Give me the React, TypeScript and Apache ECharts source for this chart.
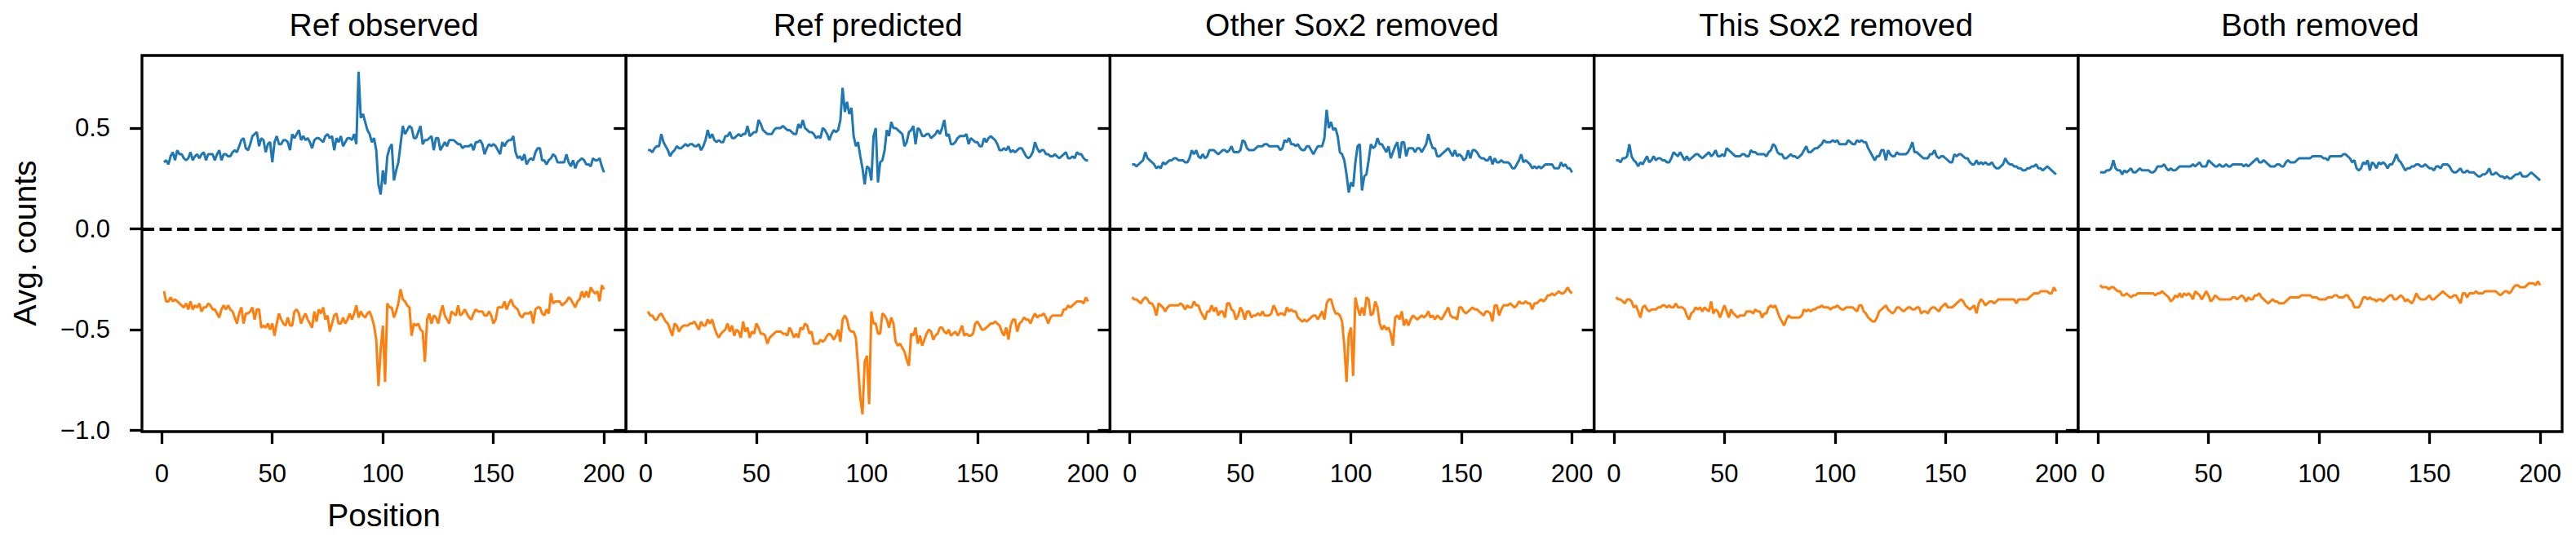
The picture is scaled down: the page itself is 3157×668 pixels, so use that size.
import React, { useEffect, useRef } from "react";
import * as echarts from "echarts";

// ---------- data ----------
const PANEL_TITLES = ["Ref observed", "Ref predicted", "Other Sox2 removed", "This Sox2 removed", "Both removed"];
const X_TICKS = [0, 50, 100, 150, 200];
const Y_TICKS = [-1.0, -0.5, 0.0, 0.5];
const Y_LABEL = "Avg. counts";
const X_LABEL = "Position";
const POSITIONS = Array.from({ length: 200 }, (_, i) => i + 1);

const REF_OBSERVED_FWD = [
  0.33, 0.34, 0.32, 0.36, 0.38, 0.34, 0.39, 0.37, 0.37, 0.35,
  0.34, 0.35, 0.38, 0.34, 0.36, 0.37, 0.35, 0.37, 0.38, 0.34,
  0.37, 0.37, 0.37, 0.34, 0.37, 0.39, 0.34, 0.37, 0.37, 0.36,
  0.36, 0.38, 0.39, 0.38, 0.41, 0.44, 0.45, 0.40, 0.39, 0.42,
  0.46, 0.47, 0.48, 0.41, 0.45, 0.44, 0.38, 0.42, 0.43, 0.33,
  0.43, 0.46, 0.42, 0.42, 0.44, 0.44, 0.43, 0.39, 0.47, 0.45,
  0.47, 0.49, 0.44, 0.46, 0.44, 0.45, 0.43, 0.40, 0.44, 0.45,
  0.45, 0.44, 0.43, 0.46, 0.47, 0.45, 0.46, 0.39, 0.45, 0.43,
  0.46, 0.41, 0.43, 0.45, 0.45, 0.44, 0.47, 0.42, 0.78, 0.55,
  0.57, 0.53, 0.49, 0.47, 0.43, 0.45, 0.39, 0.22, 0.17, 0.29,
  0.22, 0.36, 0.40, 0.42, 0.24, 0.29, 0.33, 0.42, 0.51, 0.47,
  0.49, 0.51, 0.50, 0.45, 0.45, 0.48, 0.51, 0.42, 0.44, 0.44,
  0.45, 0.46, 0.39, 0.45, 0.45, 0.39, 0.41, 0.43, 0.41, 0.44,
  0.44, 0.44, 0.43, 0.42, 0.42, 0.40, 0.41, 0.41, 0.41, 0.42,
  0.39, 0.43, 0.43, 0.44, 0.42, 0.37, 0.40, 0.42, 0.41, 0.42,
  0.41, 0.39, 0.37, 0.43, 0.41, 0.43, 0.44, 0.44, 0.46, 0.38,
  0.35, 0.36, 0.34, 0.37, 0.32, 0.34, 0.35, 0.34, 0.38, 0.40,
  0.40, 0.34, 0.34, 0.32, 0.34, 0.35, 0.37, 0.36, 0.33, 0.33,
  0.33, 0.33, 0.37, 0.33, 0.31, 0.34, 0.30, 0.33, 0.34, 0.35,
  0.34, 0.32, 0.32, 0.31, 0.35, 0.34, 0.34, 0.35, 0.31, 0.28,
];
const REF_OBSERVED_REV = [
  -0.31, -0.36, -0.36, -0.34, -0.36, -0.35, -0.36, -0.37, -0.38, -0.39,
  -0.37, -0.40, -0.36, -0.40, -0.38, -0.39, -0.37, -0.41, -0.39, -0.39,
  -0.37, -0.38, -0.40, -0.40, -0.42, -0.44, -0.40, -0.38, -0.40, -0.38,
  -0.40, -0.41, -0.44, -0.47, -0.42, -0.39, -0.47, -0.42, -0.42, -0.41,
  -0.39, -0.45, -0.40, -0.40, -0.49, -0.48, -0.49, -0.47, -0.50, -0.47,
  -0.53, -0.47, -0.42, -0.45, -0.47, -0.48, -0.44, -0.48, -0.48, -0.41,
  -0.40, -0.42, -0.47, -0.44, -0.42, -0.45, -0.47, -0.49, -0.41, -0.46,
  -0.40, -0.42, -0.39, -0.45, -0.43, -0.51, -0.47, -0.43, -0.42, -0.47,
  -0.47, -0.44, -0.47, -0.45, -0.42, -0.45, -0.42, -0.38, -0.44, -0.41,
  -0.43, -0.44, -0.42, -0.41, -0.44, -0.48, -0.55, -0.78, -0.60, -0.48,
  -0.76, -0.37, -0.39, -0.39, -0.44, -0.41, -0.37, -0.30, -0.35, -0.36,
  -0.38, -0.39, -0.53, -0.47, -0.48, -0.47, -0.50, -0.51, -0.66, -0.45,
  -0.42, -0.47, -0.43, -0.44, -0.47, -0.42, -0.38, -0.43, -0.45, -0.47,
  -0.41, -0.42, -0.43, -0.38, -0.43, -0.42, -0.40, -0.42, -0.44, -0.45,
  -0.42, -0.40, -0.41, -0.41, -0.41, -0.43, -0.43, -0.41, -0.43, -0.47,
  -0.45, -0.39, -0.39, -0.39, -0.36, -0.40, -0.37, -0.35, -0.38, -0.39,
  -0.40, -0.43, -0.44, -0.42, -0.42, -0.42, -0.41, -0.47, -0.40, -0.39,
  -0.39, -0.42, -0.43, -0.40, -0.42, -0.32, -0.37, -0.36, -0.36, -0.36,
  -0.38, -0.37, -0.36, -0.34, -0.35, -0.37, -0.39, -0.36, -0.35, -0.31,
  -0.34, -0.31, -0.34, -0.29, -0.31, -0.32, -0.31, -0.36, -0.28, -0.30,
];
const REF_PREDICTED_FWD = [
  0.39, 0.39, 0.38, 0.40, 0.41, 0.41, 0.47, 0.43, 0.41, 0.39,
  0.36, 0.38, 0.39, 0.41, 0.40, 0.40, 0.41, 0.42, 0.41, 0.42,
  0.42, 0.41, 0.41, 0.42, 0.39, 0.41, 0.44, 0.49, 0.45, 0.47,
  0.44, 0.43, 0.44, 0.43, 0.43, 0.46, 0.46, 0.48, 0.45, 0.45,
  0.46, 0.47, 0.46, 0.47, 0.47, 0.51, 0.46, 0.47, 0.48, 0.48,
  0.54, 0.52, 0.49, 0.48, 0.47, 0.47, 0.47, 0.49, 0.50, 0.50,
  0.50, 0.51, 0.50, 0.49, 0.49, 0.48, 0.47, 0.47, 0.52, 0.50,
  0.54, 0.50, 0.49, 0.48, 0.48, 0.47, 0.45, 0.46, 0.45, 0.50,
  0.49, 0.47, 0.44, 0.47, 0.49, 0.48, 0.49, 0.54, 0.70, 0.58,
  0.63, 0.57, 0.60, 0.46, 0.41, 0.43, 0.36, 0.30, 0.22, 0.31,
  0.30, 0.24, 0.46, 0.50, 0.23, 0.33, 0.34, 0.39, 0.49, 0.46,
  0.53, 0.50, 0.50, 0.49, 0.48, 0.47, 0.41, 0.43, 0.48, 0.49,
  0.51, 0.42, 0.50, 0.49, 0.46, 0.46, 0.47, 0.47, 0.45, 0.46,
  0.47, 0.49, 0.47, 0.50, 0.54, 0.46, 0.47, 0.42, 0.42, 0.43,
  0.45, 0.46, 0.46, 0.46, 0.47, 0.42, 0.45, 0.44, 0.43, 0.43,
  0.41, 0.41, 0.45, 0.43, 0.45, 0.46, 0.45, 0.44, 0.42, 0.39,
  0.39, 0.40, 0.39, 0.41, 0.38, 0.39, 0.38, 0.39, 0.40, 0.40,
  0.38, 0.36, 0.35, 0.36, 0.38, 0.43, 0.40, 0.38, 0.39, 0.39,
  0.37, 0.37, 0.36, 0.36, 0.37, 0.36, 0.35, 0.36, 0.37, 0.38,
  0.35, 0.35, 0.36, 0.35, 0.38, 0.37, 0.37, 0.35, 0.34, 0.34,
];
const REF_PREDICTED_REV = [
  -0.41, -0.43, -0.43, -0.45, -0.45, -0.43, -0.42, -0.44, -0.46, -0.47,
  -0.50, -0.53, -0.47, -0.48, -0.51, -0.49, -0.48, -0.48, -0.48, -0.47,
  -0.47, -0.46, -0.48, -0.50, -0.46, -0.48, -0.48, -0.45, -0.47, -0.45,
  -0.49, -0.52, -0.54, -0.52, -0.51, -0.50, -0.47, -0.51, -0.48, -0.53,
  -0.50, -0.51, -0.54, -0.46, -0.51, -0.49, -0.54, -0.51, -0.52, -0.47,
  -0.49, -0.52, -0.52, -0.53, -0.57, -0.54, -0.53, -0.52, -0.51, -0.51,
  -0.51, -0.52, -0.52, -0.53, -0.49, -0.51, -0.54, -0.52, -0.54, -0.49,
  -0.50, -0.47, -0.48, -0.52, -0.51, -0.57, -0.57, -0.57, -0.55, -0.56,
  -0.55, -0.53, -0.52, -0.53, -0.55, -0.53, -0.50, -0.56, -0.45, -0.43,
  -0.45, -0.50, -0.51, -0.51, -0.54, -0.68, -0.84, -0.92, -0.66, -0.63,
  -0.87, -0.41, -0.47, -0.47, -0.52, -0.52, -0.42, -0.43, -0.45, -0.49,
  -0.44, -0.47, -0.56, -0.58, -0.57, -0.59, -0.61, -0.65, -0.68, -0.52,
  -0.53, -0.49, -0.57, -0.53, -0.58, -0.55, -0.52, -0.50, -0.51, -0.55,
  -0.53, -0.52, -0.49, -0.49, -0.51, -0.52, -0.50, -0.53, -0.52, -0.51,
  -0.53, -0.51, -0.48, -0.53, -0.52, -0.53, -0.53, -0.52, -0.47, -0.46,
  -0.48, -0.50, -0.50, -0.49, -0.48, -0.47, -0.47, -0.46, -0.47, -0.48,
  -0.51, -0.53, -0.49, -0.55, -0.48, -0.45, -0.45, -0.51, -0.47, -0.46,
  -0.44, -0.45, -0.45, -0.47, -0.44, -0.42, -0.44, -0.43, -0.43, -0.42,
  -0.44, -0.47, -0.44, -0.43, -0.43, -0.43, -0.43, -0.43, -0.40, -0.40,
  -0.38, -0.39, -0.38, -0.37, -0.36, -0.36, -0.36, -0.37, -0.34, -0.36,
];
const OTHER_REMOVED_FWD = [
  0.32, 0.32, 0.31, 0.32, 0.33, 0.34, 0.38, 0.35, 0.34, 0.33,
  0.32, 0.30, 0.31, 0.30, 0.33, 0.32, 0.33, 0.34, 0.34, 0.35,
  0.35, 0.34, 0.34, 0.34, 0.33, 0.33, 0.35, 0.39, 0.37, 0.39,
  0.36, 0.35, 0.37, 0.35, 0.36, 0.39, 0.39, 0.39, 0.38, 0.37,
  0.38, 0.39, 0.39, 0.38, 0.39, 0.41, 0.38, 0.38, 0.38, 0.39,
  0.44, 0.43, 0.40, 0.39, 0.39, 0.39, 0.40, 0.41, 0.41, 0.41,
  0.42, 0.42, 0.41, 0.41, 0.41, 0.41, 0.41, 0.39, 0.40, 0.44,
  0.43, 0.45, 0.42, 0.42, 0.41, 0.42, 0.40, 0.39, 0.39, 0.41,
  0.41, 0.39, 0.37, 0.39, 0.41, 0.41, 0.41, 0.45, 0.59, 0.50,
  0.53, 0.49, 0.50, 0.46, 0.38, 0.37, 0.34, 0.27, 0.18, 0.23,
  0.21, 0.33, 0.41, 0.42, 0.19, 0.26, 0.27, 0.34, 0.42, 0.40,
  0.41, 0.45, 0.42, 0.42, 0.40, 0.38, 0.41, 0.35, 0.38, 0.41,
  0.43, 0.35, 0.43, 0.43, 0.36, 0.40, 0.40, 0.40, 0.38, 0.40,
  0.40, 0.38, 0.40, 0.42, 0.47, 0.43, 0.40, 0.40, 0.36, 0.36,
  0.37, 0.38, 0.39, 0.40, 0.38, 0.36, 0.39, 0.36, 0.37, 0.36,
  0.34, 0.35, 0.39, 0.35, 0.39, 0.39, 0.38, 0.36, 0.35, 0.35,
  0.34, 0.34, 0.36, 0.32, 0.35, 0.33, 0.33, 0.34, 0.33, 0.33,
  0.33, 0.32, 0.30, 0.30, 0.32, 0.34, 0.37, 0.33, 0.34, 0.33,
  0.32, 0.30, 0.31, 0.30, 0.31, 0.30, 0.31, 0.32, 0.32, 0.32,
  0.32, 0.30, 0.30, 0.30, 0.33, 0.31, 0.32, 0.30, 0.30, 0.28,
];
const OTHER_REMOVED_REV = [
  -0.34, -0.35, -0.35, -0.36, -0.37, -0.35, -0.34, -0.35, -0.37, -0.37,
  -0.39, -0.43, -0.37, -0.38, -0.39, -0.41, -0.39, -0.38, -0.38, -0.38,
  -0.38, -0.38, -0.37, -0.38, -0.40, -0.38, -0.39, -0.39, -0.36, -0.38,
  -0.38, -0.41, -0.43, -0.45, -0.41, -0.41, -0.38, -0.41, -0.39, -0.43,
  -0.41, -0.41, -0.44, -0.37, -0.37, -0.40, -0.41, -0.45, -0.43, -0.39,
  -0.41, -0.45, -0.41, -0.41, -0.44, -0.43, -0.43, -0.42, -0.43, -0.41,
  -0.43, -0.43, -0.43, -0.42, -0.38, -0.40, -0.43, -0.42, -0.42, -0.43,
  -0.39, -0.41, -0.40, -0.41, -0.41, -0.44, -0.45, -0.46, -0.45, -0.46,
  -0.45, -0.44, -0.43, -0.43, -0.45, -0.43, -0.41, -0.45, -0.37, -0.35,
  -0.35, -0.39, -0.42, -0.42, -0.43, -0.46, -0.58, -0.76, -0.53, -0.49,
  -0.73, -0.34, -0.39, -0.43, -0.39, -0.43, -0.34, -0.35, -0.43, -0.42,
  -0.36, -0.39, -0.47, -0.50, -0.48, -0.50, -0.49, -0.52, -0.58, -0.44,
  -0.43, -0.45, -0.41, -0.48, -0.45, -0.48, -0.45, -0.43, -0.44, -0.45,
  -0.44, -0.43, -0.44, -0.43, -0.41, -0.44, -0.43, -0.45, -0.43, -0.44,
  -0.45, -0.43, -0.41, -0.39, -0.43, -0.44, -0.44, -0.45, -0.39, -0.39,
  -0.41, -0.42, -0.41, -0.40, -0.39, -0.40, -0.40, -0.41, -0.42, -0.43,
  -0.41, -0.41, -0.42, -0.46, -0.38, -0.38, -0.43, -0.40, -0.38, -0.38,
  -0.38, -0.37, -0.38, -0.39, -0.38, -0.36, -0.37, -0.37, -0.36, -0.37,
  -0.37, -0.40, -0.37, -0.37, -0.36, -0.35, -0.36, -0.35, -0.33, -0.33,
  -0.32, -0.33, -0.32, -0.31, -0.32, -0.32, -0.31, -0.29, -0.31, -0.32,
];
const THIS_REMOVED_FWD = [
  0.34, 0.34, 0.33, 0.35, 0.35, 0.36, 0.42, 0.36, 0.34, 0.33,
  0.31, 0.33, 0.32, 0.34, 0.36, 0.33, 0.34, 0.36, 0.34, 0.35,
  0.35, 0.34, 0.34, 0.33, 0.33, 0.35, 0.38, 0.37, 0.36, 0.38,
  0.36, 0.34, 0.36, 0.34, 0.35, 0.36, 0.37, 0.37, 0.36, 0.35,
  0.36, 0.37, 0.38, 0.36, 0.37, 0.39, 0.36, 0.36, 0.37, 0.36,
  0.40, 0.39, 0.38, 0.37, 0.36, 0.36, 0.36, 0.37, 0.37, 0.36,
  0.36, 0.39, 0.38, 0.38, 0.37, 0.37, 0.37, 0.37, 0.36, 0.38,
  0.39, 0.42, 0.41, 0.38, 0.37, 0.37, 0.35, 0.35, 0.36, 0.37,
  0.36, 0.36, 0.35, 0.36, 0.37, 0.39, 0.41, 0.38, 0.38, 0.39,
  0.40, 0.40, 0.41, 0.42, 0.44, 0.43, 0.43, 0.43, 0.44, 0.43,
  0.44, 0.42, 0.42, 0.42, 0.42, 0.44, 0.43, 0.42, 0.42, 0.44,
  0.43, 0.44, 0.43, 0.43, 0.40, 0.38, 0.36, 0.34, 0.36, 0.36,
  0.39, 0.39, 0.34, 0.39, 0.37, 0.36, 0.36, 0.38, 0.37, 0.37,
  0.37, 0.37, 0.38, 0.40, 0.43, 0.38, 0.38, 0.37, 0.36, 0.35,
  0.35, 0.35, 0.37, 0.37, 0.39, 0.36, 0.35, 0.36, 0.36, 0.35,
  0.34, 0.33, 0.33, 0.37, 0.36, 0.37, 0.37, 0.36, 0.35, 0.35,
  0.33, 0.32, 0.32, 0.34, 0.32, 0.33, 0.32, 0.33, 0.32, 0.32,
  0.33, 0.31, 0.30, 0.30, 0.31, 0.32, 0.35, 0.33, 0.32, 0.32,
  0.31, 0.31, 0.30, 0.30, 0.29, 0.29, 0.30, 0.30, 0.31, 0.31,
  0.32, 0.30, 0.30, 0.29, 0.30, 0.31, 0.30, 0.29, 0.28, 0.27,
];
const THIS_REMOVED_REV = [
  -0.34, -0.35, -0.35, -0.36, -0.37, -0.35, -0.35, -0.36, -0.39, -0.38,
  -0.41, -0.44, -0.39, -0.38, -0.40, -0.41, -0.40, -0.40, -0.40, -0.39,
  -0.39, -0.38, -0.38, -0.39, -0.38, -0.39, -0.39, -0.37, -0.39, -0.39,
  -0.39, -0.40, -0.43, -0.45, -0.42, -0.41, -0.39, -0.40, -0.39, -0.41,
  -0.39, -0.40, -0.41, -0.36, -0.42, -0.40, -0.41, -0.44, -0.41, -0.38,
  -0.41, -0.44, -0.40, -0.42, -0.43, -0.44, -0.43, -0.43, -0.43, -0.41,
  -0.41, -0.41, -0.42, -0.40, -0.41, -0.41, -0.44, -0.42, -0.42, -0.39,
  -0.38, -0.39, -0.38, -0.41, -0.44, -0.46, -0.48, -0.45, -0.43, -0.44,
  -0.44, -0.44, -0.44, -0.44, -0.43, -0.40, -0.41, -0.40, -0.41, -0.40,
  -0.40, -0.39, -0.39, -0.38, -0.39, -0.39, -0.39, -0.40, -0.39, -0.39,
  -0.38, -0.39, -0.40, -0.40, -0.39, -0.39, -0.39, -0.39, -0.40, -0.41,
  -0.38, -0.38, -0.41, -0.42, -0.44, -0.45, -0.46, -0.46, -0.44, -0.41,
  -0.40, -0.39, -0.38, -0.40, -0.41, -0.42, -0.41, -0.39, -0.39, -0.40,
  -0.41, -0.40, -0.39, -0.39, -0.40, -0.40, -0.39, -0.39, -0.42, -0.41,
  -0.41, -0.42, -0.40, -0.39, -0.39, -0.40, -0.41, -0.39, -0.38, -0.37,
  -0.39, -0.39, -0.39, -0.38, -0.37, -0.36, -0.35, -0.36, -0.38, -0.39,
  -0.40, -0.39, -0.38, -0.42, -0.37, -0.35, -0.36, -0.38, -0.37, -0.36,
  -0.36, -0.37, -0.36, -0.35, -0.35, -0.35, -0.35, -0.35, -0.35, -0.35,
  -0.35, -0.37, -0.35, -0.35, -0.35, -0.35, -0.35, -0.34, -0.33, -0.32,
  -0.32, -0.32, -0.31, -0.31, -0.31, -0.31, -0.32, -0.32, -0.29, -0.31,
];
const BOTH_REMOVED_FWD = [
  0.28, 0.28, 0.28, 0.29, 0.29, 0.30, 0.34, 0.30, 0.29, 0.29,
  0.27, 0.29, 0.28, 0.29, 0.30, 0.28, 0.28, 0.29, 0.30, 0.29,
  0.29, 0.29, 0.29, 0.28, 0.28, 0.29, 0.31, 0.31, 0.31, 0.32,
  0.30, 0.29, 0.30, 0.29, 0.29, 0.30, 0.31, 0.31, 0.31, 0.31,
  0.31, 0.31, 0.32, 0.31, 0.32, 0.33, 0.31, 0.31, 0.31, 0.34,
  0.33, 0.32, 0.31, 0.31, 0.32, 0.31, 0.31, 0.32, 0.31, 0.31,
  0.32, 0.32, 0.32, 0.32, 0.32, 0.31, 0.32, 0.31, 0.32, 0.33,
  0.34, 0.35, 0.33, 0.33, 0.34, 0.33, 0.32, 0.31, 0.31, 0.31,
  0.32, 0.32, 0.31, 0.31, 0.33, 0.34, 0.33, 0.33, 0.33, 0.34,
  0.35, 0.35, 0.35, 0.35, 0.35, 0.35, 0.36, 0.36, 0.36, 0.36,
  0.36, 0.35, 0.35, 0.34, 0.36, 0.36, 0.36, 0.36, 0.36, 0.36,
  0.37, 0.37, 0.36, 0.35, 0.33, 0.34, 0.30, 0.29, 0.30, 0.33,
  0.32, 0.34, 0.29, 0.33, 0.32, 0.30, 0.33, 0.32, 0.33, 0.32,
  0.30, 0.32, 0.32, 0.34, 0.37, 0.34, 0.33, 0.31, 0.29, 0.30,
  0.30, 0.31, 0.31, 0.32, 0.32, 0.31, 0.31, 0.32, 0.31, 0.30,
  0.30, 0.29, 0.31, 0.31, 0.30, 0.32, 0.32, 0.32, 0.31, 0.29,
  0.28, 0.28, 0.29, 0.30, 0.28, 0.28, 0.29, 0.28, 0.28, 0.28,
  0.27, 0.26, 0.26, 0.27, 0.27, 0.28, 0.30, 0.27, 0.27, 0.28,
  0.27, 0.26, 0.26, 0.25, 0.26, 0.25, 0.25, 0.26, 0.27, 0.27,
  0.28, 0.26, 0.26, 0.26, 0.27, 0.28, 0.27, 0.26, 0.25, 0.24,
];
const BOTH_REMOVED_REV = [
  -0.28, -0.29, -0.29, -0.29, -0.30, -0.29, -0.29, -0.30, -0.31, -0.31,
  -0.33, -0.33, -0.32, -0.33, -0.34, -0.33, -0.33, -0.32, -0.32, -0.32,
  -0.32, -0.32, -0.32, -0.32, -0.32, -0.33, -0.32, -0.32, -0.31, -0.32,
  -0.33, -0.34, -0.36, -0.35, -0.33, -0.34, -0.32, -0.34, -0.32, -0.33,
  -0.32, -0.33, -0.35, -0.31, -0.32, -0.33, -0.35, -0.33, -0.31, -0.33,
  -0.36, -0.35, -0.33, -0.34, -0.35, -0.35, -0.35, -0.35, -0.35, -0.35,
  -0.34, -0.34, -0.35, -0.34, -0.33, -0.34, -0.36, -0.34, -0.35, -0.35,
  -0.33, -0.33, -0.32, -0.34, -0.35, -0.36, -0.37, -0.36, -0.35, -0.36,
  -0.36, -0.37, -0.37, -0.37, -0.36, -0.35, -0.34, -0.34, -0.34, -0.34,
  -0.34, -0.33, -0.33, -0.33, -0.33, -0.33, -0.34, -0.34, -0.34, -0.35,
  -0.35, -0.35, -0.35, -0.34, -0.34, -0.34, -0.33, -0.33, -0.34, -0.34,
  -0.34, -0.33, -0.33, -0.35, -0.36, -0.39, -0.39, -0.39, -0.37, -0.34,
  -0.34, -0.35, -0.34, -0.35, -0.35, -0.36, -0.35, -0.35, -0.36, -0.35,
  -0.34, -0.33, -0.33, -0.35, -0.35, -0.34, -0.33, -0.34, -0.36, -0.35,
  -0.36, -0.37, -0.35, -0.32, -0.34, -0.35, -0.35, -0.35, -0.34, -0.33,
  -0.35, -0.35, -0.34, -0.33, -0.32, -0.31, -0.32, -0.33, -0.34, -0.34,
  -0.33, -0.33, -0.35, -0.37, -0.32, -0.32, -0.34, -0.32, -0.32, -0.32,
  -0.31, -0.32, -0.32, -0.32, -0.31, -0.31, -0.31, -0.31, -0.31, -0.31,
  -0.32, -0.33, -0.32, -0.31, -0.31, -0.32, -0.31, -0.29, -0.28, -0.28,
  -0.29, -0.29, -0.29, -0.28, -0.27, -0.27, -0.27, -0.28, -0.26, -0.28,
];

const PANEL_FWD = [REF_OBSERVED_FWD, REF_PREDICTED_FWD, OTHER_REMOVED_FWD, THIS_REMOVED_FWD, BOTH_REMOVED_FWD];
const PANEL_REV = [REF_OBSERVED_REV, REF_PREDICTED_REV, OTHER_REMOVED_REV, THIS_REMOVED_REV, BOTH_REMOVED_REV];

// ---------- layout / style ----------
const WIDTH = 3157;
const HEIGHT = 668;
const PLOT_LEFT = 174;
const PANEL_W = 593.2;
const PLOT_TOP = 68;
const PLOT_H = 461;
const X_MIN = -8.95;
const X_MAX = 209.95;
const Y_MIN = -1.006;
const Y_MAX = 0.86;
const FONT = "'Liberation Sans', Arial, Helvetica, sans-serif";
const BLUE = "#1f77b4";
const ORANGE = "#ff7f0e";
const SPINE_W = 3.3;
const LINE_W = 3;

const fmtY = (v: number) => {
  const s = Math.abs(v).toFixed(1);
  return v < -1e-9 ? "\u2212" + s : s;
};

export default function App() {
  const ref = useRef<HTMLDivElement>(null);

  useEffect(() => {
    if (!ref.current) return;
    const chart = echarts.init(ref.current, undefined, { renderer: "svg" });

    const grids = PANEL_TITLES.map((_, i) => ({
      left: PLOT_LEFT + i * PANEL_W,
      top: PLOT_TOP,
      width: PANEL_W,
      height: PLOT_H,
      show: true,
      borderColor: "#000",
      borderWidth: SPINE_W,
      backgroundColor: "transparent",
    }));

    const xAxes = PANEL_TITLES.map((_, i) => ({
      type: "value",
      gridIndex: i,
      position: "bottom",
      min: X_MIN,
      max: X_MAX,
      axisLine: { show: false, onZero: false },
      axisTick: {
        show: true,
        inside: false,
        length: 15,
        customValues: X_TICKS,
        lineStyle: { color: "#000", width: SPINE_W },
      },
      axisLabel: {
        show: true,
        customValues: X_TICKS,
        fontSize: 31,
        fontFamily: FONT,
        color: "#000",
        margin: 36,
        formatter: (v: number) => String(v),
      },
      splitLine: { show: false },
    }));

    const yAxes = PANEL_TITLES.map((_, i) => ({
      type: "value",
      gridIndex: i,
      position: "left",
      min: Y_MIN,
      max: Y_MAX,
      axisLine: { show: false, onZero: false },
      axisTick: {
        show: true,
        inside: false,
        length: 15,
        customValues: Y_TICKS,
        lineStyle: { color: "#000", width: SPINE_W },
      },
      axisLabel: {
        show: i === 0,
        customValues: Y_TICKS,
        fontSize: 31,
        fontFamily: FONT,
        color: "#000",
        margin: 39,
        formatter: (v: number) => fmtY(v),
      },
      splitLine: { show: false },
    }));

    const series: any[] = [];
    PANEL_TITLES.forEach((_, i) => {
      series.push({
        type: "line",
        name: PANEL_TITLES[i] + " fwd",
        xAxisIndex: i,
        yAxisIndex: i,
        data: POSITIONS.map((p, k) => [p, PANEL_FWD[i][k]]),
        symbol: "none",
        showSymbol: false,
        lineStyle: { color: BLUE, width: LINE_W },
        itemStyle: { color: BLUE },
        silent: true,
        markLine: {
          silent: true,
          symbol: ["none", "none"],
          label: { show: false },
          lineStyle: { color: "#000", width: 4, type: [15, 6.5] },
          data: [{ yAxis: 0 }],
        },
      });
      series.push({
        type: "line",
        name: PANEL_TITLES[i] + " rev",
        xAxisIndex: i,
        yAxisIndex: i,
        data: POSITIONS.map((p, k) => [p, PANEL_REV[i][k]]),
        symbol: "none",
        showSymbol: false,
        lineStyle: { color: ORANGE, width: LINE_W },
        itemStyle: { color: ORANGE },
        silent: true,
      });
    });

    const graphics: any[] = PANEL_TITLES.map((t, i) => ({
      type: "text",
      x: PLOT_LEFT + i * PANEL_W + PANEL_W / 2,
      y: 30,
      style: {
        text: t,
        fontSize: 39,
        fontFamily: FONT,
        fill: "#000",
        textAlign: "center",
        textVerticalAlign: "middle",
      },
    }));
    graphics.push({
      type: "text",
      x: 30,
      y: 298,
      rotation: Math.PI / 2,
      style: {
        text: Y_LABEL,
        fontSize: 39,
        fontFamily: FONT,
        fill: "#000",
        textAlign: "center",
        textVerticalAlign: "middle",
      },
    });
    graphics.push({
      type: "text",
      x: PLOT_LEFT + PANEL_W / 2,
      y: 631,
      style: {
        text: X_LABEL,
        fontSize: 39,
        fontFamily: FONT,
        fill: "#000",
        textAlign: "center",
        textVerticalAlign: "middle",
      },
    });

    chart.setOption({
      animation: false,
      backgroundColor: "#fff",
      grid: grids,
      xAxis: xAxes,
      yAxis: yAxes,
      series,
      graphic: graphics,
    });

    return () => chart.dispose();
  }, []);

  return (
    <div
      ref={ref}
      style={{ position: "absolute", left: 0, top: 0, width: WIDTH, height: HEIGHT, background: "#fff" }}
    />
  );
}
